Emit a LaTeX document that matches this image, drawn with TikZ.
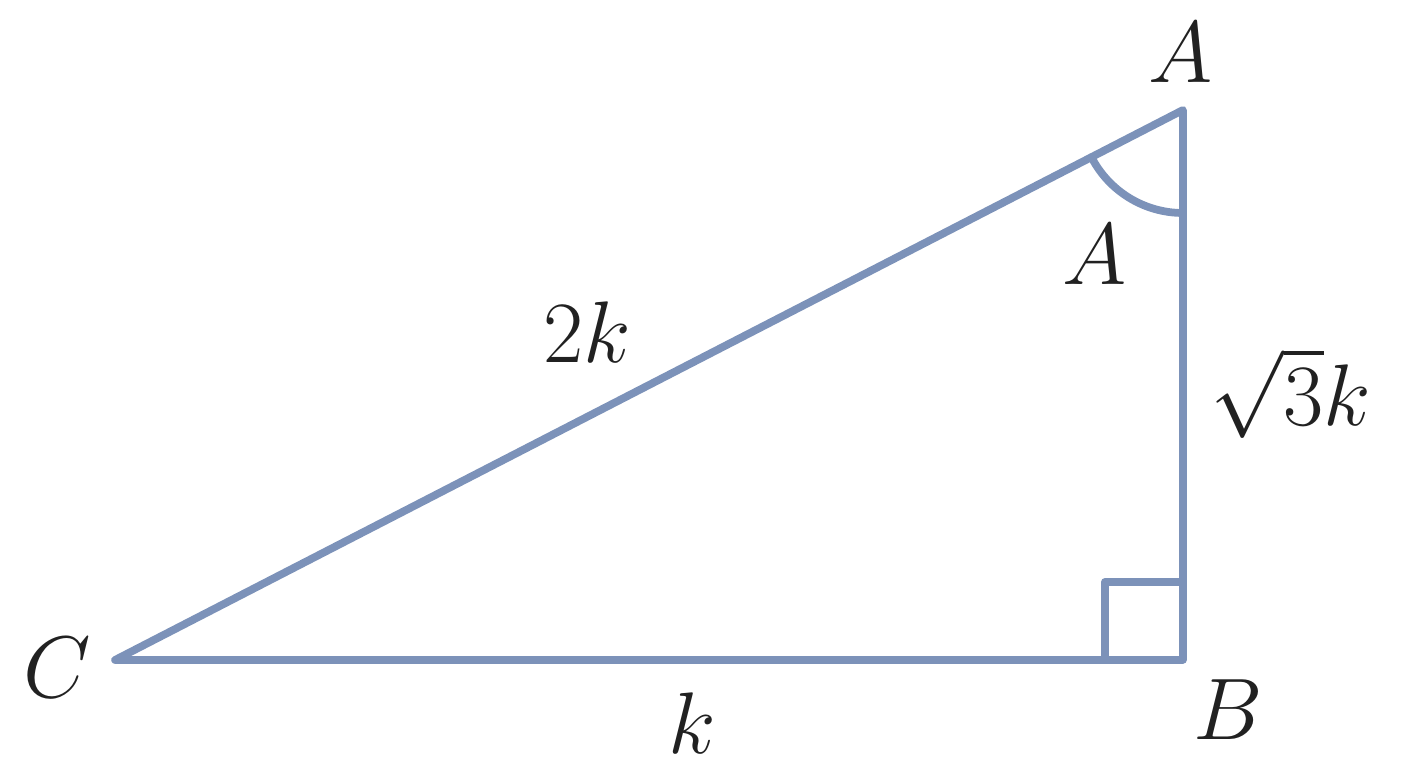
\documentclass[tikz,border=0pt]{standalone}
\definecolor{sidegray}{RGB}{124,146,185}
\begin{document}
\begin{tikzpicture}[scale=1,
  side/.style={draw=sidegray, line width=2.2pt, line join=round, line cap=round},
  lbl/.style={anchor=base, inner sep=0pt, text=black!87, font=\fontsize{31}{37}\selectfont}]
\useasboundingbox (0,0) rectangle (14.08,7.68);
\coordinate (C) at (1.15,1.08);
\coordinate (B) at (11.83,1.08);
\coordinate (A) at (11.83,6.58);
\draw[side] (C) -- (B) -- (A) -- cycle;
\draw[side] (B) ++(-0.78,0) -- ++(0,0.78) -- ++(0.78,0);
\draw[side] (A) ++(207.25:1.03) arc[start angle=207.25, end angle=270, radius=1.03];
\node[lbl] (lA) at (11.81,6.85) {$A$};
\node[lbl] (lAngle) at (10.95,4.83) {$A$};
\node[lbl] (lC) at (0.57,0.70) {$C$};
\node[lbl] (lB) at (12.28,0.28) {$B$};
\node[lbl] (lCB) at (6.92,0.14) {$k$};
\node[lbl] (lCA) at (5.87,4.05) {$2k$};
\node[lbl] (lBA) at (12.91,3.42) {$\sqrt{3}k$};
\end{tikzpicture}
\end{document}
